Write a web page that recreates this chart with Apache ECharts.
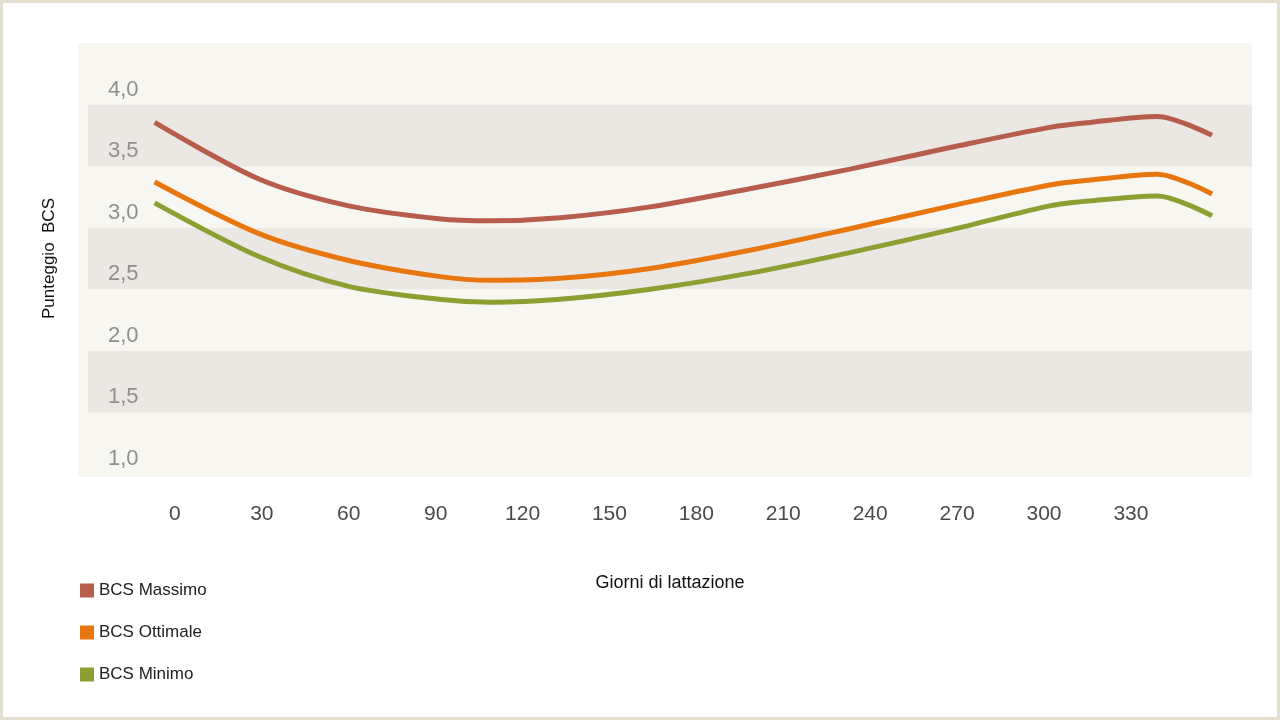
<!DOCTYPE html>
<html><head><meta charset="utf-8">
<script src="https://cdn.jsdelivr.net/npm/echarts@6/dist/echarts.min.js"></script>
<style>html,body{margin:0;padding:0;background:#fff}#c{width:1280px;height:720px;box-sizing:border-box;border:3px solid #e2dfcf}</style>
</head><body><div id="c"></div>
<script>
const days = [-7,29,60,91,109,133,164,198,233,268,302,316,339,358];
const bcsMassimo = [3.855,3.395,3.177,3.073,3.056,3.081,3.169,3.315,3.476,3.653,3.815,3.855,3.903,3.75];
const bcsOttimale = [3.371,2.952,2.734,2.605,2.573,2.589,2.669,2.815,2.992,3.177,3.347,3.387,3.435,3.274];
const bcsMinimo = [3.202,2.766,2.524,2.419,2.395,2.419,2.5,2.629,2.798,2.984,3.177,3.218,3.258,3.097];
const seriesNames = ['BCS Massimo','BCS Ottimale','BCS Minimo'];
const colors = ['#b65e4b','#e8760f','#8d9e33'];
const pair = v => days.map((d,i)=>[d,v[i]]);
const chart = echarts.init(document.getElementById('c'));
chart.setOption({
  animation:false,
  graphic:[{type:'rect',z:-10,shape:{x:75,y:40,width:1174,height:434},style:{fill:'#f7f6f1'}}],
  grid:{left:85,right:25,top:40,bottom:243},
  legend:{orient:'vertical',left:72,top:574,itemGap:25,itemWidth:14,itemHeight:14,icon:'rect',
    textStyle:{fontFamily:'Liberation Sans',fontSize:17,color:'#222'},data:seriesNames},
  xAxis:{type:'value',min:-30,max:371.8,interval:30,name:'Giorni di lattazione',nameLocation:'middle',nameGap:100,
    nameTextStyle:{fontFamily:'Liberation Sans',fontSize:18,color:'#111'},
    axisLine:{show:false},axisTick:{show:false},splitLine:{show:false},
    axisLabel:{margin:30,fontFamily:'Liberation Sans',fontSize:21,color:'#4a4a4a',
      formatter:v=>(v>=0&&v<=330)?String(v):''}},
  yAxis:{type:'value',min:1,max:4.5,interval:0.5,name:'Punteggio  BCS',nameLocation:'middle',nameGap:30,nameRotate:90,
    nameTextStyle:{fontFamily:'Liberation Sans',fontSize:17,color:'#111'},
    axisLine:{show:false},axisTick:{show:false},splitLine:{show:false},
    splitArea:{show:true,areaStyle:{color:['#f7f6f1','#ebe8e3']}},
    axisLabel:{inside:true,margin:20,verticalAlign:'bottom',padding:[0,0,4,0],fontFamily:'Liberation Sans',fontSize:22,color:'#8f8f8f',
      formatter:v=>v<=4?v.toFixed(1).replace('.',','):''}},
  series:[bcsMassimo,bcsOttimale,bcsMinimo].map((v,i)=>({name:seriesNames[i],type:'line',smooth:0.3,showSymbol:false,
    data:pair(v),itemStyle:{color:colors[i]},lineStyle:{width:5,color:colors[i]}}))
});
</script></body></html>
